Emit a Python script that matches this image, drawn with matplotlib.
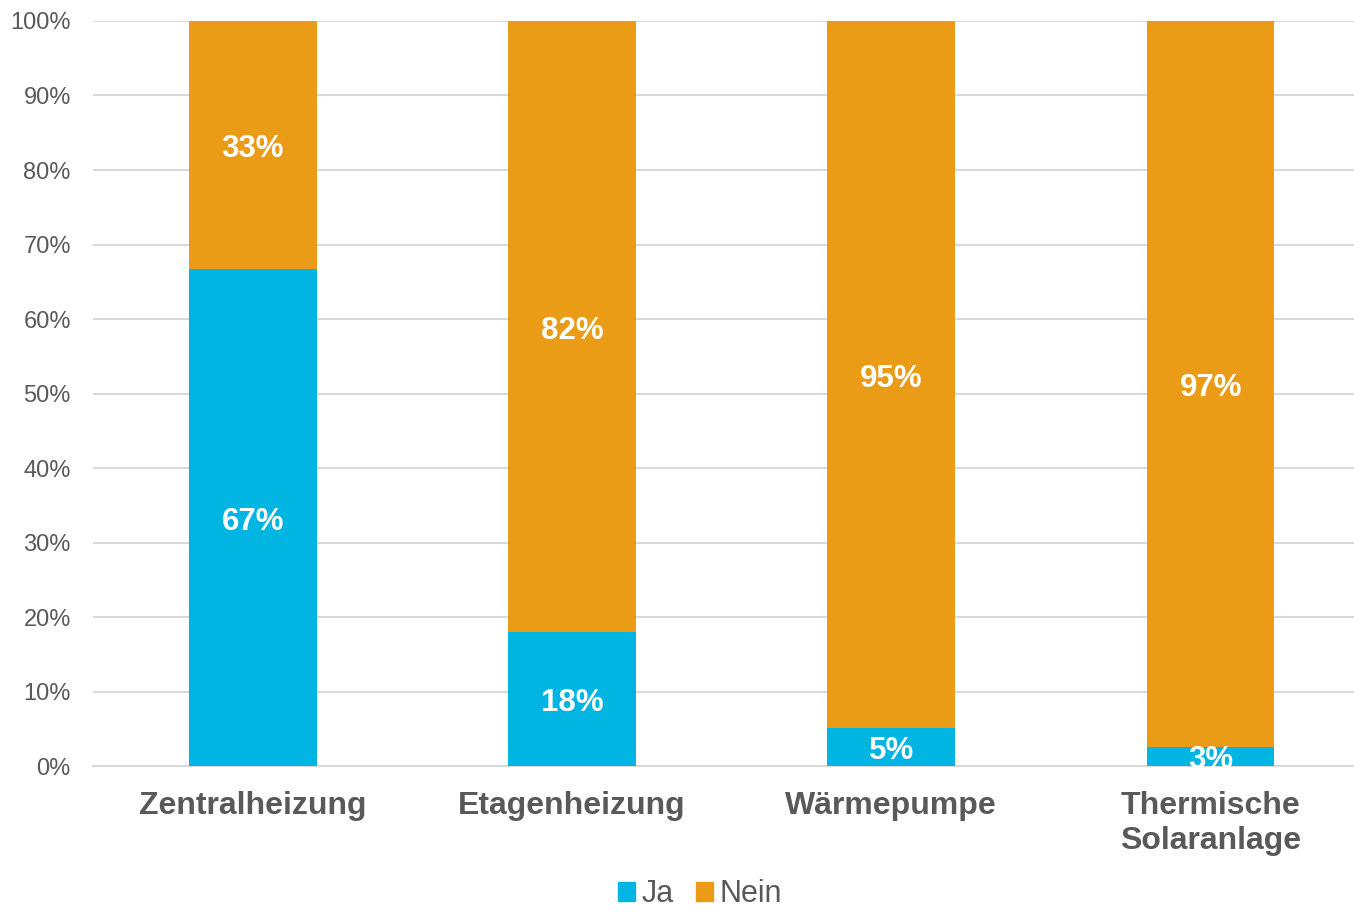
import matplotlib.pyplot as plt
from matplotlib.patches import Patch
from matplotlib.ticker import PercentFormatter

# Werte (Anteil in %)
categories = ["Zentralheizung", "Etagenheizung", "Wärmepumpe", "Thermische\nSolaranlage"]
ja = [66.7, 18.0, 5.1, 2.6]
nein = [33.3, 82.0, 94.9, 97.4]
series_names = ["Ja", "Nein"]

BLUE = "#00B5E2"
ORANGE = "#EA9C17"
GRAY = "#595959"
GRID = "#D9D9D9"

plt.rcParams['font.family'] = ['Liberation Sans', 'DejaVu Sans']

fig = plt.figure(figsize=(13.54, 9.13), dpi=100)
ax = fig.add_axes([0.0687, 0.161, 0.9313, 0.816])

x = list(range(len(categories)))
bars_ja = ax.bar(x, ja, width=0.4, color=BLUE, zorder=3)
bars_nein = ax.bar(x, nein, width=0.4, bottom=ja, color=ORANGE, zorder=3)

for bars in (bars_ja, bars_nein):
    labels = ax.bar_label(bars, fmt='%.0f%%', label_type='center', color='white',
                          fontsize=22.5, fontweight='bold')
    for t in labels:
        t.xyann = (0, -3)
        t.set_clip_on(True)

ax.set_ylim(0, 100)
ax.set_xlim(-0.5, 3.449)
ax.set_yticks(range(0, 101, 10))
ax.yaxis.set_major_formatter(PercentFormatter(decimals=0))
ax.grid(axis='y', color=GRID, linewidth=1.5, zorder=0)
ax.set_axisbelow(True)

ax.set_xticks(x)
ax.set_xticklabels(categories, fontsize=23, fontweight='bold', color=GRAY, linespacing=1.2)
ax.tick_params(axis='x', length=0, pad=18)
ax.tick_params(axis='y', length=0, pad=16, labelsize=17, labelcolor=GRAY)

for s in ['top', 'right', 'left']:
    ax.spines[s].set_visible(False)
ax.spines['bottom'].set_color(GRID)
ax.spines['bottom'].set_linewidth(1.5)

handles = [Patch(color=BLUE), Patch(color=ORANGE)]
fig.legend(handles, series_names, loc='lower center', bbox_to_anchor=(0.517, -0.026),
           ncol=2, frameon=False, fontsize=22, labelcolor=GRAY,
           handlelength=0.55, handleheight=0.55, handletextpad=0.2, columnspacing=0.75)

fig.savefig("out.png", dpi=100)
